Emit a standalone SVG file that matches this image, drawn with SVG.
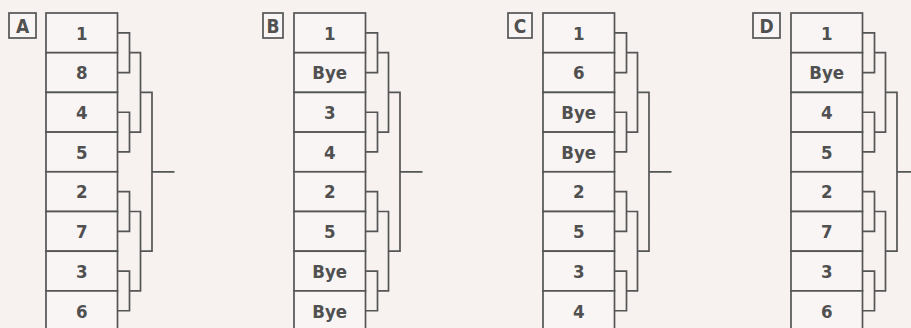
<svg xmlns="http://www.w3.org/2000/svg" width="911" height="328" viewBox="0 0 911 328">
<style>
.bg{fill:#f7f2f0}
.cell{fill:#f9f5f4;stroke:#555;stroke-width:1.7}
.lab{fill:#f9f5f4;stroke:#555;stroke-width:1.7}
.t{font-family:"Liberation Sans Narrow","DejaVu Sans Condensed","Liberation Sans",sans-serif;font-size:18.5px;font-weight:bold;fill:#505050;text-anchor:middle}
.l{font-size:19px}
.c{fill:none;stroke:#555;stroke-width:1.7}
</style>
<rect class="bg" x="0" y="0" width="911" height="328"/>
<defs>
<path id="br" d="M71.5 32.85H83.5V72.55H71.5M71.5 112.25H83.5V151.95H71.5M71.5 191.65H83.5V231.35H71.5M71.5 271.05H83.5V310.75H71.5M83.5 52.7H94.5V132.1H83.5M83.5 211.5H94.5V290.9H83.5M94.5 92.4H106V251.2H94.5M106 171.8H128.5"/>
</defs>

<g id="panelA" transform="translate(46,0)">
<g id="A-label"><rect class="lab" x="-37" y="13" width="27" height="25"/><text class="t l" x="-23.5" y="32.5">A</text></g>
<g id="A-1"><rect class="cell" x="0" y="13" width="71.5" height="39.7"/><text class="t" x="35.75" y="39.6">1</text></g>
<g id="A-2"><rect class="cell" x="0" y="52.7" width="71.5" height="39.7"/><text class="t" x="35.75" y="79.3">8</text></g>
<g id="A-3"><rect class="cell" x="0" y="92.4" width="71.5" height="39.7"/><text class="t" x="35.75" y="119">4</text></g>
<g id="A-4"><rect class="cell" x="0" y="132.1" width="71.5" height="39.7"/><text class="t" x="35.75" y="158.7">5</text></g>
<g id="A-5"><rect class="cell" x="0" y="171.8" width="71.5" height="39.7"/><text class="t" x="35.75" y="198.4">2</text></g>
<g id="A-6"><rect class="cell" x="0" y="211.5" width="71.5" height="39.7"/><text class="t" x="35.75" y="238.1">7</text></g>
<g id="A-7"><rect class="cell" x="0" y="251.2" width="71.5" height="39.7"/><text class="t" x="35.75" y="277.8">3</text></g>
<g id="A-8"><rect class="cell" x="0" y="290.9" width="71.5" height="39.7"/><text class="t" x="35.75" y="317.5">6</text></g>
<g id="A-connectors"><use href="#br" class="c"/></g>
</g>

<g id="panelB" transform="translate(294,0)">
<g id="B-label"><rect class="lab" x="-31" y="13" width="20" height="25"/><text class="t l" x="-21" y="32.5">B</text></g>
<g id="B-1"><rect class="cell" x="0" y="13" width="71.5" height="39.7"/><text class="t" x="35.75" y="39.6">1</text></g>
<g id="B-2"><rect class="cell" x="0" y="52.7" width="71.5" height="39.7"/><text class="t" x="35.75" y="79.3">Bye</text></g>
<g id="B-3"><rect class="cell" x="0" y="92.4" width="71.5" height="39.7"/><text class="t" x="35.75" y="119">3</text></g>
<g id="B-4"><rect class="cell" x="0" y="132.1" width="71.5" height="39.7"/><text class="t" x="35.75" y="158.7">4</text></g>
<g id="B-5"><rect class="cell" x="0" y="171.8" width="71.5" height="39.7"/><text class="t" x="35.75" y="198.4">2</text></g>
<g id="B-6"><rect class="cell" x="0" y="211.5" width="71.5" height="39.7"/><text class="t" x="35.75" y="238.1">5</text></g>
<g id="B-7"><rect class="cell" x="0" y="251.2" width="71.5" height="39.7"/><text class="t" x="35.75" y="277.8">Bye</text></g>
<g id="B-8"><rect class="cell" x="0" y="290.9" width="71.5" height="39.7"/><text class="t" x="35.75" y="317.5">Bye</text></g>
<g id="B-connectors"><use href="#br" class="c"/></g>
</g>

<g id="panelC" transform="translate(543,0)">
<g id="C-label"><rect class="lab" x="-35" y="13" width="24" height="25"/><text class="t l" x="-23" y="32.5">C</text></g>
<g id="C-1"><rect class="cell" x="0" y="13" width="71.5" height="39.7"/><text class="t" x="35.75" y="39.6">1</text></g>
<g id="C-2"><rect class="cell" x="0" y="52.7" width="71.5" height="39.7"/><text class="t" x="35.75" y="79.3">6</text></g>
<g id="C-3"><rect class="cell" x="0" y="92.4" width="71.5" height="39.7"/><text class="t" x="35.75" y="119">Bye</text></g>
<g id="C-4"><rect class="cell" x="0" y="132.1" width="71.5" height="39.7"/><text class="t" x="35.75" y="158.7">Bye</text></g>
<g id="C-5"><rect class="cell" x="0" y="171.8" width="71.5" height="39.7"/><text class="t" x="35.75" y="198.4">2</text></g>
<g id="C-6"><rect class="cell" x="0" y="211.5" width="71.5" height="39.7"/><text class="t" x="35.75" y="238.1">5</text></g>
<g id="C-7"><rect class="cell" x="0" y="251.2" width="71.5" height="39.7"/><text class="t" x="35.75" y="277.8">3</text></g>
<g id="C-8"><rect class="cell" x="0" y="290.9" width="71.5" height="39.7"/><text class="t" x="35.75" y="317.5">4</text></g>
<g id="C-connectors"><use href="#br" class="c"/></g>
</g>

<g id="panelD" transform="translate(791,0)">
<g id="D-label"><rect class="lab" x="-38" y="13" width="27" height="25"/><text class="t l" x="-24.5" y="32.5">D</text></g>
<g id="D-1"><rect class="cell" x="0" y="13" width="71.5" height="39.7"/><text class="t" x="35.75" y="39.6">1</text></g>
<g id="D-2"><rect class="cell" x="0" y="52.7" width="71.5" height="39.7"/><text class="t" x="35.75" y="79.3">Bye</text></g>
<g id="D-3"><rect class="cell" x="0" y="92.4" width="71.5" height="39.7"/><text class="t" x="35.75" y="119">4</text></g>
<g id="D-4"><rect class="cell" x="0" y="132.1" width="71.5" height="39.7"/><text class="t" x="35.75" y="158.7">5</text></g>
<g id="D-5"><rect class="cell" x="0" y="171.8" width="71.5" height="39.7"/><text class="t" x="35.75" y="198.4">2</text></g>
<g id="D-6"><rect class="cell" x="0" y="211.5" width="71.5" height="39.7"/><text class="t" x="35.75" y="238.1">7</text></g>
<g id="D-7"><rect class="cell" x="0" y="251.2" width="71.5" height="39.7"/><text class="t" x="35.75" y="277.8">3</text></g>
<g id="D-8"><rect class="cell" x="0" y="290.9" width="71.5" height="39.7"/><text class="t" x="35.75" y="317.5">6</text></g>
<g id="D-connectors"><use href="#br" class="c"/></g>
</g>
</svg>
